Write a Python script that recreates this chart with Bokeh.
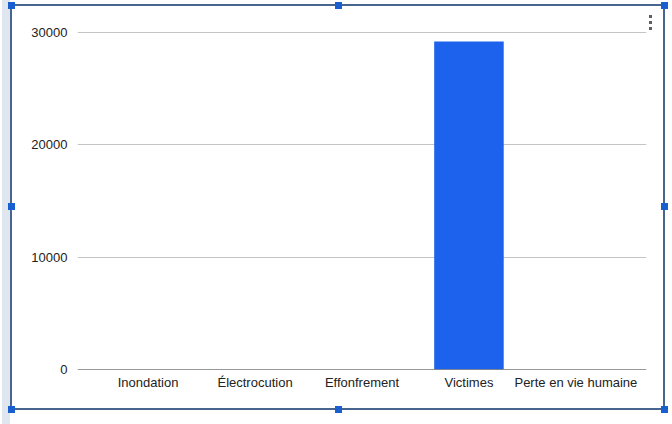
from bokeh.plotting import figure
from bokeh.models import FactorRange, Span, FixedTicker, ColumnDataSource
from bokeh.embed import file_html
from bokeh.resources import INLINE

# Data
categories = ["Inondation", "Électrocution", "Effonfrement", "Victimes", "Perte en vie humaine"]
values = [0, 0, 0, 29200, 0]
y_ticks = [0, 10000, 20000, 30000]

source = ColumnDataSource(dict(cat=categories, val=values))

# Selected-chart chrome (frame, resize handles, menu dots) painted as CSS layers
HANDLE = "#1a5fd0"
EDGE = "#48658f"


def layer(color, x, y, w, h):
    return f"linear-gradient({color},{color}) {x}px {y}px / {w}px {h}px no-repeat"


handles = [(8, 2), (335, 2), (661, 2), (8, 203), (661, 203), (8, 406), (335, 406), (661, 406)]
layers = [layer(HANDLE, x, y, 7, 7) for x, y in handles]
layers += [layer("#5f5f5f", 649, y, 3, 3) for y in (15, 21, 27)]
layers += [
    layer(EDGE, 12, 4, 653, 2),     # top edge
    layer(EDGE, 12, 408, 653, 2),   # bottom edge
    layer(EDGE, 10, 4, 2, 406),     # left edge
    layer(EDGE, 663, 4, 2, 406),    # right edge
    layer("#dfe6f0", 2, 0, 8, 424),  # sheet column strip
]
chrome = ", ".join(layers) + ", #ffffff"

p = figure(
    width=672, height=424,
    x_range=FactorRange(*categories, range_padding=0.064),
    y_range=(0, 30178),
    output_backend="svg", toolbar_location=None,
    min_border_left=77, min_border_right=26,
    min_border_top=30, min_border_bottom=55,
    styles={"background": chrome},
)
p.outline_line_color = None
p.background_fill_color = "white"
p.border_fill_color = None

p.vbar(x="cat", top="val", width=0.65, source=source,
       fill_color="#1c62ec", line_color=None)

# axes
p.yaxis.ticker = FixedTicker(ticks=y_ticks)
p.yaxis.axis_line_color = None
p.yaxis.major_tick_line_color = None
p.yaxis.major_tick_out = 0
p.yaxis.minor_tick_line_color = None
p.yaxis.major_label_standoff = 10
p.yaxis.major_label_text_font = "Liberation Sans"
p.yaxis.major_label_text_font_size = "13px"
p.yaxis.major_label_text_color = "#222222"

p.xaxis.axis_line_color = None
p.xaxis.major_tick_line_color = None
p.xaxis.major_tick_out = 0
p.xaxis.major_label_standoff = 5
p.xaxis.major_label_text_font = "Liberation Sans"
p.xaxis.major_label_text_font_size = "13px"
p.xaxis.major_label_text_color = "#222222"

p.xgrid.grid_line_color = None
p.ygrid.ticker = FixedTicker(ticks=y_ticks)
p.ygrid.grid_line_color = "#c4c4c4"

# baseline at zero
p.add_layout(Span(location=0, dimension="width", line_color="#333333", line_width=1.2))

open("out.html", "w").write(file_html(p, INLINE))
